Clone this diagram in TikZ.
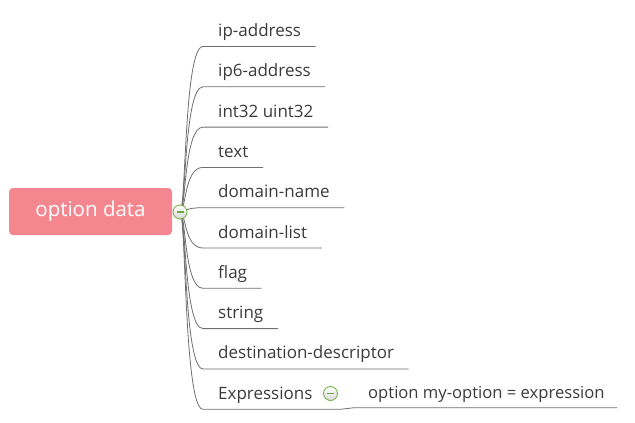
\documentclass[tikz,border=0pt]{standalone}
\usepackage{fontspec}
\setmainfont{Open Sans}
\usetikzlibrary{positioning, calc}
\definecolor{rootfill}{HTML}{F4868F}
\definecolor{linegray}{HTML}{6E6E6E}
\definecolor{textgray}{HTML}{3A3A3A}
\definecolor{togglegreen}{HTML}{6AAE3A}

\begin{document}
\begin{tikzpicture}[x=1pt, y=-1pt,
  every node/.style={font=\fontsize{17}{20}\selectfont, text=textgray},
  rootbox/.style={rectangle, rounded corners=4pt, fill=rootfill, minimum width=163pt,
                  minimum height=47pt, inner sep=0pt, text=white,
                  font=\fontsize{20.5}{24}\selectfont},
  leaf/.style={anchor=base west, inner xsep=14.5pt, inner ysep=0pt},
  branch/.style={line width=0.8pt, draw=linegray},
  toggle/.style={circle, draw=togglegreen, line width=0.8pt, top color=white,
                 bottom color=gray!30, minimum size=14pt, inner sep=0pt,
                 path picture={\draw[togglegreen, line width=1.1pt]
                   ([xshift=3.5pt]path picture bounding box.west) --
                   ([xshift=-3.5pt]path picture bounding box.east);}}
]
  \useasboundingbox (0,0) rectangle (635,423);

  % central topic
  \node[rootbox] (root) at (90.5,211.5) {option data};
  \coordinate (hub) at (180,212);

  % underline starts of the children
  \coordinate (b1) at (203,46.5);
  \coordinate (b2) at (203,86.8);
  \coordinate (b3) at (203,127.1);
  \coordinate (b4) at (203,167.4);
  \coordinate (b5) at (203,207.7);
  \coordinate (b6) at (203,248.0);
  \coordinate (b7) at (203,288.3);
  \coordinate (b8) at (203,328.6);
  \coordinate (b9) at (203,368.9);
  \coordinate (b10) at (203,409.3);

  % child topics
  \node[leaf] (l1) at ($(b1)+(0.5,-10)$) {ip-address};
  \node[leaf] (l2) at ($(b2)+(0.5,-10)$) {ip6-address};
  \node[leaf] (l3) at ($(b3)+(0.5,-10)$) {int32 uint32};
  \node[leaf] (l4) at ($(b4)+(0.5,-10)$) {text};
  \node[leaf] (l5) at ($(b5)+(0.5,-10)$) {domain-name};
  \node[leaf] (l6) at ($(b6)+(0.5,-10)$) {domain-list};
  \node[leaf] (l7) at ($(b7)+(0.5,-10)$) {flag};
  \node[leaf] (l8) at ($(b8)+(0.5,-10)$) {string};
  \node[leaf] (l9) at ($(b9)+(0.5,-10)$) {destination-descriptor};
  \node[leaf] (l10) at ($(b10)+(0.5,-10.3)$) {Expressions};

  % branches with underlines
  \draw[branch] (hub) .. controls (186,212) and (184,46.5) .. (b1) -- (b1 -| l1.east);
  \draw[branch] (hub) .. controls (186,212) and (184,86.8) .. (b2) -- (b2 -| l2.east);
  \draw[branch] (hub) .. controls (186,212) and (184,127.1) .. (b3) -- (b3 -| l3.east);
  \draw[branch] (hub) .. controls (186,212) and (184,167.4) .. (b4) -- (b4 -| l4.east);
  \draw[branch] (hub) .. controls (186,212) and (184,207.7) .. (b5) -- (b5 -| l5.east);
  \draw[branch] (hub) .. controls (186,212) and (184,248.0) .. (b6) -- (b6 -| l6.east);
  \draw[branch] (hub) .. controls (186,212) and (184,288.3) .. (b7) -- (b7 -| l7.east);
  \draw[branch] (hub) .. controls (186,212) and (184,328.6) .. (b8) -- (b8 -| l8.east);
  \draw[branch] (hub) .. controls (186,212) and (184,368.9) .. (b9) -- (b9 -| l9.east);
  \draw[branch] (hub) .. controls (186,212) and (184,409.3) .. (b10);

  % sub topic of Expressions
  \node[toggle] (t2) at (330.5,393.5) {};
  \coordinate (e10) at ($(t2.center |- b10)+(10,0)$);
  \coordinate (b11) at (353.5,407.8);
  \node[leaf, inner xsep=12.5pt, font=\fontsize{16.6}{20}\selectfont] (l11)
    at ($(b11)+(2,-9)$) {option my-option = expression};
  \draw[branch] (b10) -- (e10) .. controls ($(e10)+(6,0)$) and ($(b11)+(-6,0)$) .. (b11)
    -- (b11 -| l11.east);

  \node[toggle] (t1) at (hub) {};
\end{tikzpicture}
\end{document}
